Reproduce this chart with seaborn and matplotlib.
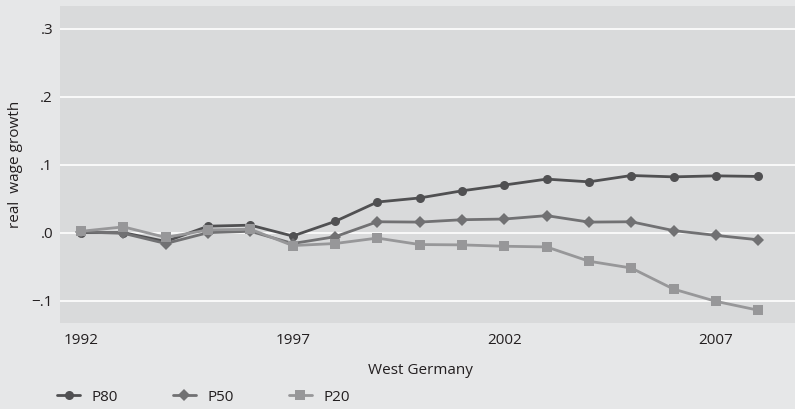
import numpy as np
import pandas as pd
import seaborn as sns
import matplotlib.pyplot as plt
from matplotlib.ticker import FixedLocator

years = list(range(1992, 2009))
p80 = [0.000, 0.000, -0.013, 0.0095, 0.011, -0.005, 0.0165, 0.045, 0.051,
       0.0615, 0.070, 0.0787, 0.0747, 0.084, 0.082, 0.0835, 0.0826]
p50 = [0.001, -0.001, -0.016, 0.000, 0.002, -0.016, -0.006, 0.016, 0.0155,
       0.019, 0.020, 0.025, 0.0155, 0.016, 0.003, -0.004, -0.0105]
p20 = [0.002, 0.0085, -0.007, 0.004, 0.005, -0.019, -0.016, -0.008, -0.0175,
       -0.018, -0.020, -0.021, -0.042, -0.052, -0.083, -0.101, -0.114]
series_names = ["P80", "P50", "P20"]
y_ticks = [-0.1, 0.0, 0.1, 0.2, 0.3]
y_tick_labels = ["\u2212.1", ".0", ".1", ".2", ".3"]
x_ticks = [1992, 1997, 2002, 2007]


def main():
    df = pd.DataFrame({"year": years, "P80": p80, "P50": p50, "P20": p20})
    long_df = df.melt(id_vars="year", var_name="series", value_name="growth")

    sns.set_theme(style="white")
    plt.rcParams["font.family"] = ["Open Sans", "DejaVu Sans"]

    fig = plt.figure(figsize=(7.95, 4.09), dpi=100, facecolor="#e6e7e8")
    ax = fig.add_axes([0.0755, 0.21, 0.9245, 0.775])
    ax.set_facecolor("#d9dadb")

    palette = {"P80": "#505052", "P50": "#717173", "P20": "#979799"}
    markers = {"P80": "o", "P50": "D", "P20": "s"}
    sizes = {"P80": 6.5, "P50": 6, "P20": 6.5}

    for name in series_names:
        sub = long_df[long_df["series"] == name]
        sns.lineplot(
            data=sub, x="year", y="growth", ax=ax,
            color=palette[name], marker=markers[name],
            markersize=sizes[name], markeredgewidth=0,
            linewidth=2, label=name, zorder=3,
        )

    ax.set_xlim(1991.5, 2008.87)
    ax.set_ylim(-0.133, 0.333)
    ax.yaxis.set_major_locator(FixedLocator(y_ticks))
    ax.set_yticklabels(y_tick_labels)
    ax.set_xticks(x_ticks)
    ax.set_xticklabels([str(x) for x in x_ticks])
    ax.grid(axis="y", color="white", linewidth=1.2)
    ax.grid(axis="x", visible=False)
    ax.set_axisbelow(True)
    for s in ax.spines.values():
        s.set_visible(False)
    ax.tick_params(axis="both", length=0, labelsize=11, colors="#231f20")
    ax.tick_params(axis="x", pad=7)
    ax.tick_params(axis="y", pad=5)

    ax.set_xlabel("West Germany", fontsize=11, color="#231f20")
    ax.xaxis.set_label_coords(0.49, -0.127)
    ax.set_ylabel("real  wage growth", fontsize=11, color="#231f20")
    ax.yaxis.set_label_coords(-0.051, 0.5)

    ax.get_legend().remove()
    handles, labels = ax.get_legend_handles_labels()
    fig.legend(
        handles, labels, loc="center left", bbox_to_anchor=(0.072, 0.029),
        ncol=3, frameon=False, fontsize=11, handlelength=1.5,
        columnspacing=3.6, handletextpad=0.75, labelcolor="#231f20",
        borderpad=0, borderaxespad=0,
    )

    fig.savefig("out.png", dpi=100, facecolor=fig.get_facecolor())
    plt.close(fig)


if __name__ == "__main__":
    main()
